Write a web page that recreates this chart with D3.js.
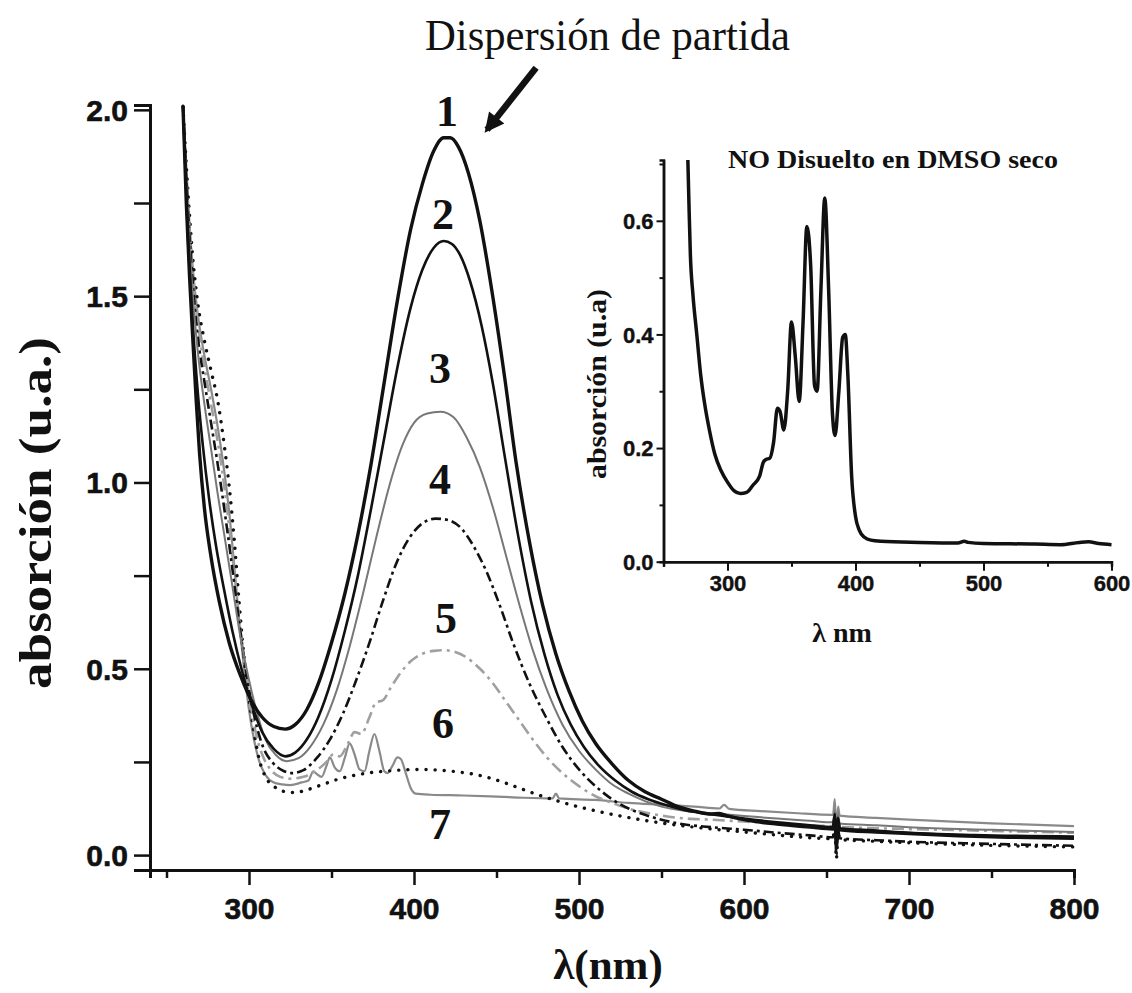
<!DOCTYPE html>
<html><head><meta charset="utf-8">
<script src="https://cdn.jsdelivr.net/npm/d3@7"></script>
<style>body{margin:0;background:#fff}svg{display:block}</style>
</head><body>
<script>
// Main spectra: [wavelength nm, absorbance]
const curve1 = [[260,2.01],[262,1.75],[264,1.55],[266,1.38],[268,1.22],[270,1.08],[273,0.93],[277,0.80],[282,0.68],[288,0.57],[295,0.48],[302,0.41],[308,0.37],[315,0.345],[322,0.338],[328,0.35],[335,0.39],[342,0.46],[350,0.57],[358,0.70],[366,0.86],[374,1.05],[382,1.27],[390,1.49],[398,1.68],[405,1.80],[412,1.89],[418,1.925],[422,1.925],[427,1.90],[433,1.83],[440,1.70],[447,1.52],[455,1.28],[462,1.05],[470,0.84],[478,0.67],[486,0.54],[494,0.44],[502,0.36],[510,0.30],[520,0.245],[530,0.20],[540,0.17],[550,0.15],[560,0.13],[570,0.118],[580,0.11],[585,0.112],[590,0.105],[600,0.095],[620,0.083],[640,0.075],[654,0.07],[655,0.10],[656,0.03],[657,0.09],[658,0.068],[680,0.062],[700,0.058],[730,0.052],[760,0.048],[800,0.045]];
const curve2 = [[260,2.01],[263,1.66],[266,1.42],[269,1.24],[272,1.10],[276,0.95],[280,0.83],[285,0.71],[290,0.60],[296,0.49],[302,0.40],[308,0.33],[315,0.285],[322,0.265],[328,0.275],[335,0.31],[342,0.37],[350,0.47],[358,0.60],[366,0.75],[374,0.93],[382,1.12],[390,1.31],[398,1.47],[405,1.57],[412,1.63],[418,1.648],[423,1.64],[428,1.61],[434,1.54],[441,1.42],[448,1.26],[455,1.07],[463,0.86],[471,0.68],[479,0.54],[487,0.43],[495,0.35],[503,0.29],[512,0.24],[522,0.20],[532,0.17],[542,0.15],[552,0.135],[565,0.12],[580,0.11],[600,0.098],[620,0.088],[640,0.08],[654,0.075],[655,0.11],[656,0.02],[657,0.10],[658,0.072],[680,0.066],[700,0.06],[740,0.054],[800,0.05]];
const curve3 = [[260,2.01],[263,1.71],[266,1.50],[269,1.35],[273,1.21],[277,1.09],[281,0.97],[285,0.86],[290,0.72],[295,0.58],[300,0.47],[305,0.38],[310,0.31],[316,0.27],[323,0.252],[330,0.26],[337,0.29],[345,0.35],[353,0.44],[361,0.56],[369,0.70],[377,0.85],[385,0.99],[393,1.10],[400,1.16],[408,1.185],[416,1.19],[424,1.175],[432,1.12],[440,1.04],[448,0.93],[456,0.80],[464,0.67],[472,0.55],[480,0.45],[490,0.35],[500,0.28],[510,0.23],[520,0.19],[530,0.165],[540,0.145],[550,0.13],[565,0.118],[580,0.112],[600,0.105],[620,0.098],[640,0.092],[654,0.088],[655,0.12],[656,0.04],[657,0.11],[658,0.085],[680,0.08],[700,0.075],[750,0.068],[800,0.062]];
const curve4 = [[260,2.01],[263,1.73],[266,1.53],[269,1.39],[273,1.27],[277,1.16],[281,1.05],[285,0.93],[289,0.80],[293,0.66],[297,0.53],[301,0.42],[305,0.34],[309,0.285],[314,0.25],[320,0.228],[326,0.22],[333,0.228],[341,0.26],[349,0.31],[357,0.38],[365,0.47],[373,0.57],[381,0.68],[389,0.78],[397,0.85],[405,0.89],[413,0.903],[420,0.90],[428,0.88],[436,0.83],[444,0.76],[452,0.67],[460,0.57],[470,0.46],[480,0.37],[490,0.29],[500,0.23],[510,0.185],[520,0.15],[530,0.125],[540,0.108],[550,0.095],[560,0.085],[580,0.075],[600,0.068],[620,0.06],[640,0.053],[654,0.048],[655,0.09],[656,0.0],[657,0.07],[658,0.045],[680,0.04],[700,0.036],[750,0.03],[800,0.025]];
const curve5 = [[260,2.01],[263,1.75],[266,1.56],[269,1.43],[273,1.31],[277,1.21],[281,1.11],[285,0.99],[288,0.88],[292,0.72],[296,0.56],[300,0.43],[304,0.33],[308,0.27],[313,0.23],[319,0.21],[325,0.205],[333,0.21],[340,0.225],[347,0.25],[351,0.27],[355,0.265],[360,0.30],[364,0.33],[368,0.325],[373,0.37],[377,0.41],[381,0.415],[386,0.45],[392,0.49],[398,0.52],[405,0.54],[412,0.548],[418,0.55],[425,0.545],[432,0.53],[440,0.50],[448,0.46],[456,0.41],[464,0.36],[472,0.31],[480,0.265],[490,0.22],[500,0.185],[510,0.158],[520,0.14],[530,0.125],[545,0.11],[560,0.10],[580,0.095],[600,0.09],[620,0.085],[640,0.08],[654,0.078],[655,0.11],[656,0.03],[657,0.10],[658,0.076],[680,0.072],[700,0.07],[750,0.065],[800,0.06]];
const curve6 = [[260,2.01],[263,1.78],[266,1.60],[269,1.48],[273,1.38],[277,1.30],[281,1.22],[285,1.10],[288,0.99],[291,0.85],[294,0.68],[297,0.53],[300,0.42],[303,0.33],[306,0.26],[310,0.21],[315,0.185],[320,0.172],[328,0.168],[335,0.175],[345,0.19],[355,0.205],[365,0.215],[375,0.222],[385,0.226],[395,0.229],[405,0.23],[415,0.228],[425,0.224],[435,0.218],[445,0.208],[455,0.194],[465,0.178],[475,0.162],[485,0.148],[495,0.135],[505,0.124],[515,0.114],[525,0.105],[540,0.093],[555,0.083],[570,0.075],[590,0.066],[610,0.058],[630,0.05],[654,0.044],[655,0.08],[656,-0.01],[657,0.06],[658,0.042],[680,0.037],[700,0.033],[750,0.026],[800,0.022]];
const curve7 = [[260,2.01],[263,1.76],[266,1.57],[269,1.45],[273,1.34],[277,1.25],[281,1.15],[285,1.03],[288,0.92],[291,0.78],[294,0.63],[297,0.50],[300,0.39],[303,0.31],[306,0.255],[310,0.215],[315,0.195],[320,0.19],[325,0.188],[332,0.195],[336,0.20],[339,0.225],[341,0.218],[344,0.21],[347,0.24],[349,0.262],[352,0.235],[355,0.225],[358,0.26],[361,0.30],[364,0.27],[367,0.23],[370,0.225],[373,0.28],[376,0.325],[379,0.28],[382,0.225],[384,0.22],[387,0.24],[390,0.262],[392,0.258],[395,0.22],[398,0.18],[401,0.165],[410,0.162],[430,0.16],[460,0.155],[484,0.152],[486,0.165],[488,0.152],[510,0.148],[530,0.14],[550,0.135],[570,0.13],[585,0.125],[588,0.135],[591,0.124],[610,0.118],[630,0.113],[654,0.108],[655,0.15],[656,0.06],[657,0.13],[658,0.106],[680,0.10],[700,0.095],[750,0.085],[800,0.078]];

// Inset spectrum: NO in dry DMSO
const insetCurve = [[269,0.71],[270,0.62],[271,0.54],[273,0.47],[276,0.40],[279,0.33],[282,0.28],[286,0.23],[290,0.19],[295,0.16],[300,0.14],[305,0.125],[310,0.12],[315,0.122],[320,0.135],[325,0.15],[328,0.175],[330,0.18],[333,0.182],[336,0.21],[339,0.27],[341,0.265],[344,0.232],[347,0.30],[350,0.422],[353,0.36],[356,0.282],[359,0.42],[362,0.59],[365,0.52],[368,0.31],[370,0.30],[373,0.48],[376,0.64],[379,0.48],[382,0.26],[384,0.222],[387,0.30],[390,0.395],[392,0.40],[394,0.33],[397,0.15],[400,0.08],[403,0.055],[407,0.043],[412,0.038],[420,0.036],[450,0.034],[480,0.033],[485,0.036],[488,0.034],[500,0.032],[540,0.031],[560,0.030],[575,0.034],[582,0.035],[590,0.032],[600,0.030]];

const mainXTicks = [300,400,500,600,700,800];
const mainXMinor = [250,350,450,550,650,750];
const mainYTicks = [0,0.5,1.0,1.5,2.0];
const mainYMinor = [0.25,0.75,1.25,1.75];
const insetXTicks = [300,400,500,600];
const insetXMinor = [250,350,450,550];
const insetYTicks = [0,0.2,0.4,0.6];
const insetYMinor = [0.1,0.3,0.5,0.7];

const curveLabels = ["1","2","3","4","5","6","7"];
const labelPos = [[420,1.995],[417.6,1.718],[415.8,1.307],[415.8,1.007],[419.4,0.634],[417.6,0.354],[415.8,0.081]];

const series = [
  {data: curve1, color:"#111", width:3.4, dash:null},
  {data: curve2, color:"#111", width:2.6, dash:null},
  {data: curve3, color:"#777", width:2.0, dash:null},
  {data: curve4, color:"#111", width:2.6, dash:"10,4,3,4"},
  {data: curve5, color:"#a0a0a0", width:2.6, dash:"12,5,3,5"},
  {data: curve6, color:"#111", width:3.4, dash:"0.1,9"},
  {data: curve7, color:"#8a8a8a", width:2.2, dash:null}
];

const W = 1132, H = 993;
const svg = d3.select("body").append("svg").attr("width", W).attr("height", H)
  .style("background", "#fff");

const serif = "'Liberation Serif','Times New Roman',serif";
const sans = "'Liberation Sans',Arial,sans-serif";

// ---- main chart ----
const x = d3.scaleLinear().domain([240, 800]).range([150, 1074]);
const y = d3.scaleLinear().domain([-0.04, 2.013]).range([870, 105]);

svg.append("clipPath").attr("id", "mainClip").append("rect")
  .attr("x", 150).attr("y", 100).attr("width", 930).attr("height", 770);

const line = d3.line().x(d => x(d[0])).y(d => y(d[1])).curve(d3.curveMonotoneX);

const gLines = svg.append("g").attr("clip-path", "url(#mainClip)");
series.slice().reverse().forEach(s => {
  gLines.append("path").attr("d", line(s.data))
    .attr("fill", "none").attr("stroke", s.color).attr("stroke-width", s.width)
    .attr("stroke-linejoin", "round")
    .attr("stroke-linecap", s.dash === "0.1,9" ? "round" : "butt")
    .attr("stroke-dasharray", s.dash);
});

// axes
const xAxis = svg.append("g").attr("transform", `translate(0,${y(-0.04)})`);
xAxis.call(d3.axisBottom(x).tickValues(mainXTicks).tickSize(15).tickFormat(d3.format("d")).tickSizeOuter(0));
xAxis.append("g").call(d3.axisBottom(x).tickValues(mainXMinor).tickSize(8).tickFormat(""));
const yAxis = svg.append("g").attr("transform", `translate(${x(240)},0)`);
yAxis.call(d3.axisLeft(y).tickValues(mainYTicks).tickSize(16).tickFormat(d3.format(".1f")).tickSizeOuter(0));
yAxis.append("g").call(d3.axisLeft(y).tickValues(mainYMinor).tickSize(16).tickFormat(""));
[xAxis, yAxis].forEach(g => {
  g.selectAll(".domain").attr("stroke", "#111").attr("stroke-width", 3);
  g.selectAll("line").attr("stroke", "#111").attr("stroke-width", 2.5);
  g.selectAll("text").attr("fill", "#111").attr("stroke", "#111").attr("stroke-width", 0.6)
    .style("font-family", sans).style("font-weight", "bold").style("font-size", "30px");
});
xAxis.selectAll("text").attr("dy", "0.95em").attr("y", 20);
yAxis.selectAll("text").attr("x", -22).attr("dy", "0.35em");

// axis titles
svg.append("text").attr("x", 608).attr("y", 979).attr("text-anchor", "middle")
  .style("font-family", serif).style("font-weight", "bold").style("font-size", "43px")
  .attr("fill", "#111").text("λ(nm)");
svg.append("text").attr("transform", "translate(51,513) rotate(-90)").attr("text-anchor", "middle")
  .attr("textLength", 352).attr("lengthAdjust", "spacingAndGlyphs")
  .style("font-family", serif).style("font-weight", "bold").style("font-size", "46px")
  .attr("fill", "#111").text("absorción (u.a.)");

// title and arrow
svg.append("text").attr("x", 425).attr("y", 50)
  .attr("textLength", 365).attr("lengthAdjust", "spacingAndGlyphs")
  .style("font-family", serif).style("font-size", "45px").attr("fill", "#111")
  .text("Dispersión de partida");

const defs = svg.append("defs");
defs.append("marker").attr("id", "arrowHead").attr("viewBox", "0 0 10 10")
  .attr("refX", 8).attr("refY", 5).attr("markerWidth", 3.4).attr("markerHeight", 3.0)
  .attr("orient", "auto").attr("markerUnits", "strokeWidth")
  .append("path").attr("d", "M0,0 L10,5 L0,10 Z").attr("fill", "#111");
const arrowFrom = [474, 2.113], arrowTo = [438.8, 1.917];
svg.append("line")
  .attr("x1", x(arrowFrom[0])).attr("y1", y(arrowFrom[1]))
  .attr("x2", x(arrowTo[0]) + 9).attr("y2", y(arrowTo[1]) - 11)
  .attr("stroke", "#111").attr("stroke-width", 6.5)
  .attr("marker-end", "url(#arrowHead)");

// curve numbers
svg.append("g").selectAll("text").data(curveLabels).join("text")
  .attr("x", (d, i) => x(labelPos[i][0])).attr("y", (d, i) => y(labelPos[i][1]))
  .attr("text-anchor", "middle").attr("dominant-baseline", "central")
  .style("font-family", serif).style("font-weight", "bold").style("font-size", "44px")
  .attr("fill", "#111").text(d => d);

// ---- inset ----
const ix = d3.scaleLinear().domain([250, 600]).range([663.5, 1111.5]);
const iy = d3.scaleLinear().domain([0, 0.707]).range([561.7, 160]);
svg.append("clipPath").attr("id", "insetClip").append("rect")
  .attr("x", 664).attr("y", 160).attr("width", 450).attr("height", 402);
const iline = d3.line().x(d => ix(d[0])).y(d => iy(d[1])).curve(d3.curveMonotoneX);
svg.append("path").attr("clip-path", "url(#insetClip)").attr("d", iline(insetCurve))
  .attr("fill", "none").attr("stroke", "#111").attr("stroke-width", 3.5)
  .attr("stroke-linejoin", "round");

const ixAxis = svg.append("g").attr("transform", `translate(0,${iy(0)})`);
ixAxis.call(d3.axisBottom(ix).tickValues(insetXTicks).tickSize(9).tickFormat(d3.format("d")).tickSizeOuter(0));
ixAxis.append("g").call(d3.axisBottom(ix).tickValues(insetXMinor).tickSize(5).tickFormat(""));
const iyAxis = svg.append("g").attr("transform", `translate(${ix(250)},0)`);
iyAxis.call(d3.axisLeft(iy).tickValues(insetYTicks).tickSize(7).tickFormat(d3.format(".1f")).tickSizeOuter(0));
iyAxis.append("g").call(d3.axisLeft(iy).tickValues(insetYMinor).tickSize(4).tickFormat(""));
[ixAxis, iyAxis].forEach(g => {
  g.selectAll(".domain").attr("stroke", "#111").attr("stroke-width", 2.5);
  g.selectAll("line").attr("stroke", "#111").attr("stroke-width", 2);
  g.selectAll("text").attr("fill", "#111").attr("stroke", "#111").attr("stroke-width", 0.4)
    .style("font-family", sans).style("font-weight", "bold").style("font-size", "22px");
});
ixAxis.selectAll("text").attr("y", 14);
iyAxis.selectAll("text").attr("x", -10).attr("dy", "0.35em");

svg.append("text").attr("x", 728).attr("y", 168)
  .attr("textLength", 330).attr("lengthAdjust", "spacingAndGlyphs")
  .style("font-family", serif).style("font-weight", "bold").style("font-size", "26px")
  .attr("fill", "#111").text("NO Disuelto en DMSO seco");
svg.append("text").attr("x", 842).attr("y", 642).attr("text-anchor", "middle")
  .style("font-family", serif).style("font-weight", "bold").style("font-size", "28px")
  .attr("fill", "#111").text("λ nm");
svg.append("text").attr("transform", "translate(606,384) rotate(-90)").attr("text-anchor", "middle")
  .attr("textLength", 190).attr("lengthAdjust", "spacingAndGlyphs")
  .style("font-family", serif).style("font-weight", "bold").style("font-size", "28px")
  .attr("fill", "#111").text("absorción (u.a)");
</script>
</body></html>
